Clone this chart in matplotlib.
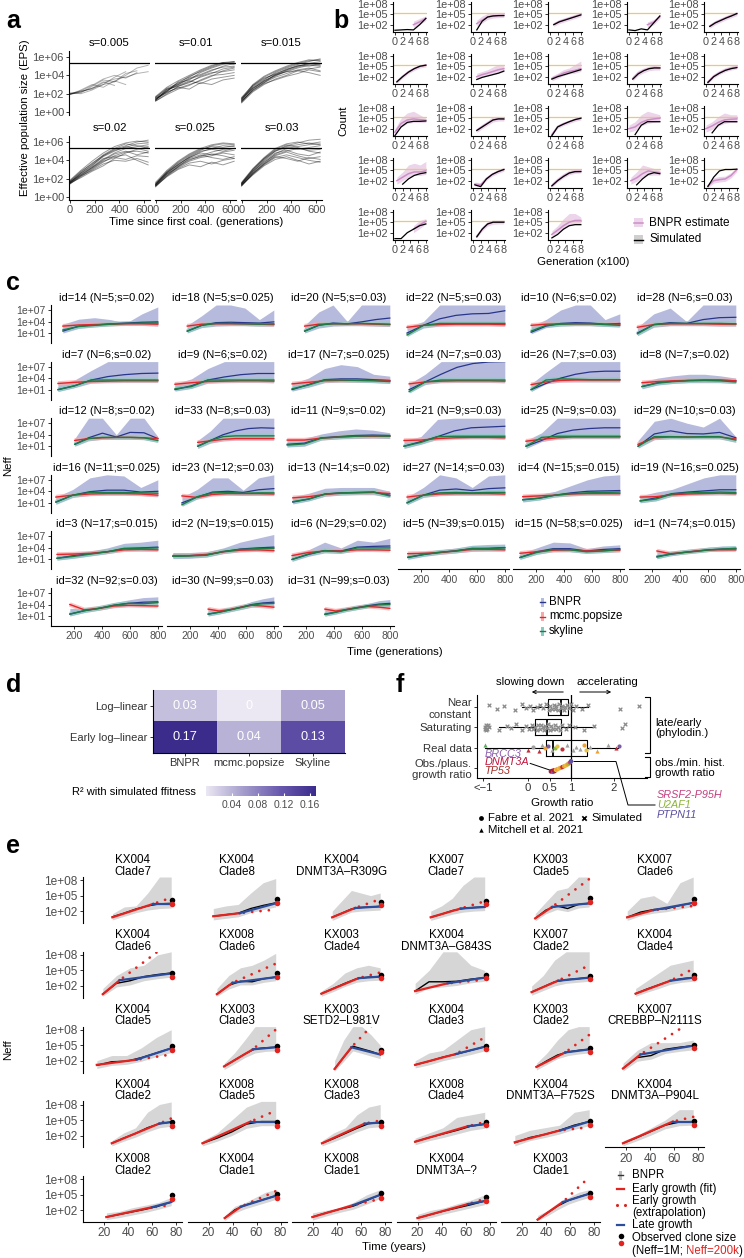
import numpy as np
import matplotlib
matplotlib.use('Agg')
import matplotlib.pyplot as plt
from matplotlib.ticker import NullLocator
from matplotlib.patches import Rectangle
from matplotlib.colors import LinearSegmentedColormap

plt.rcParams['font.family'] = ['Liberation Sans', 'DejaVu Sans']

# ---------------- data ----------------
# panel a: log10 EPS at a_times, one list per trajectory
a_titles = ['s=0.005', 's=0.01', 's=0.015', 's=0.02', 's=0.025', 's=0.03']
a_times = [0, 90, 180, 270, 360, 450, 540, 630]
a_cap = 2e5
nan = np.nan
a_lines = [
    [[1.9, 2.2, 2.6, 3.0, 3.3, 4.0, 4.8, 5.1], [2.0, 2.3, 2.5, 3.2, 3.6, 3.8, 4.2, 4.4],
     [2.0, 2.1, 2.8, 3.5, 3.3, 4.2, 4.5, nan], [1.9, 2.4, 3.0, 2.7, 3.4, 3.0, nan, nan],
     [2.1, 2.0, 2.4, 3.0, 3.8, 4.4, nan, nan], [2.0, 2.2, 2.6, 3.3, 2.9, nan, nan, nan],
     [1.9, 2.3, 2.9, 3.6, 4.0, 3.7, 4.3, nan]],
    [[1.3, 2.5, 3.0, 3.6, 4.0, 4.5, 5.0, 5.3], [1.5, 2.3, 3.2, 3.5, 4.3, 4.8, 5.2, 5.4],
     [1.2, 2.0, 2.8, 3.3, 3.8, 4.2, 4.7, 4.9], [1.6, 2.6, 3.1, 3.9, 4.4, 4.9, 5.3, 5.5],
     [1.4, 2.2, 2.6, 3.0, 3.4, 3.9, 4.5, 4.8], [1.3, 2.4, 2.9, 3.4, 3.1, 3.6, 3.8, 4.0],
     [1.5, 2.1, 2.7, 2.5, 3.2, 3.0, 3.5, 3.7], [1.7, 2.7, 3.4, 4.0, 4.6, 5.1, 5.4, 5.2],
     [1.2, 1.9, 2.5, 2.9, 3.5, 4.0, 4.1, 4.3], [1.4, 2.3, 3.0, 3.7, 4.1, 4.6, 4.9, 5.0],
     [1.6, 2.5, 2.8, 3.2, 3.9, 4.3, 4.4, 4.6], [1.3, 2.2, 3.3, 3.8, 4.5, 5.0, 5.4, 5.5]],
    [[1.3, 2.8, 3.6, 4.2, 4.6, 5.0, 5.3, 5.5], [1.1, 2.5, 3.4, 4.0, 4.4, 4.8, 5.1, 5.0],
     [1.5, 3.0, 3.9, 4.5, 5.0, 5.4, 5.7, 5.6], [1.2, 2.4, 3.2, 3.8, 4.2, 4.6, 4.8, 4.5],
     [1.4, 2.7, 3.5, 4.3, 4.8, 5.2, 5.5, 5.8], [1.0, 2.2, 3.0, 3.6, 4.0, 4.5, 4.7, 4.9],
     [1.6, 2.9, 3.7, 4.1, 4.4, 4.5, 4.3, 4.0], [1.3, 2.6, 3.3, 3.9, 4.5, 4.9, 5.2, 5.3],
     [1.2, 2.3, 3.1, 3.5, 3.9, 4.2, 4.6, 4.4], [1.4, 2.9, 3.8, 4.4, 4.9, 5.3, 5.6, 5.7],
     [1.5, 2.6, 3.4, 4.0, 4.6, 5.1, 5.0, 5.2], [1.1, 2.4, 3.2, 4.1, 4.7, 5.0, 5.3, 5.1]],
    [[1.5, 2.6, 3.4, 4.5, 5.2, 5.6, 6.0, 6.2], [1.6, 2.4, 3.2, 4.1, 4.8, 5.3, 5.5, 5.7],
     [1.4, 2.2, 3.0, 3.8, 4.5, 4.9, 5.0, 4.8], [1.7, 2.8, 3.6, 4.6, 5.3, 5.8, 5.6, 5.4],
     [1.5, 2.3, 2.9, 3.6, 4.0, 3.9, 4.2, 3.8], [1.6, 2.5, 3.3, 4.2, 4.4, 4.6, 4.0, 3.5],
     [1.5, 2.1, 2.8, 3.4, 4.2, 4.8, 5.2, 5.5], [1.8, 2.9, 3.9, 4.8, 5.5, 5.9, 6.1, 6.0],
     [1.4, 2.3, 3.1, 3.9, 4.3, 4.1, 4.5, 4.4], [1.6, 2.6, 3.5, 4.4, 5.0, 5.5, 5.3, 5.0],
     [1.5, 2.4, 3.2, 4.0, 4.7, 5.0, 4.6, 4.9], [1.7, 2.7, 3.7, 4.5, 5.1, 5.4, 5.8, 5.9]],
    [[1.3, 2.6, 3.5, 4.3, 4.9, 5.3, 5.6, 5.5], [1.2, 2.4, 3.3, 4.0, 4.5, 4.9, 5.2, 5.3],
     [1.4, 2.8, 3.7, 4.5, 5.1, 5.6, 5.8, 5.7], [1.1, 2.3, 3.1, 3.7, 3.9, 3.6, 4.0, 4.2],
     [1.3, 2.5, 3.4, 4.1, 4.4, 4.7, 4.5, 4.2], [1.5, 2.7, 3.8, 4.6, 5.2, 5.5, 5.4, 5.6],
     [1.2, 2.2, 3.0, 3.5, 3.3, 3.8, 3.5, 3.9], [1.4, 2.6, 3.6, 4.3, 4.8, 4.6, 4.9, 5.1],
     [1.3, 2.5, 3.2, 3.9, 4.3, 4.5, 4.8, 4.6], [1.6, 2.9, 3.9, 4.7, 5.3, 5.7, 5.9, 5.8],
     [1.2, 2.3, 3.3, 4.2, 4.6, 4.3, 4.1, 4.4], [1.4, 2.7, 3.5, 4.4, 5.0, 5.2, 5.0, 5.3]],
    [[1.4, 2.8, 4.0, 5.0, 5.6, 5.9, 6.2, 6.3], [1.3, 2.6, 3.7, 4.7, 5.3, 5.5, 5.7, 5.8],
     [1.5, 3.0, 4.2, 5.2, 5.7, 5.4, 5.0, 4.8], [1.2, 2.5, 3.5, 4.3, 4.6, 4.3, 4.0, 3.8],
     [1.4, 2.7, 3.9, 4.8, 5.1, 4.7, 4.5, 4.9], [1.6, 3.1, 4.3, 5.3, 5.8, 6.0, 5.8, 6.0],
     [1.3, 2.4, 3.4, 4.1, 4.4, 4.0, 3.6, 3.9], [1.5, 2.9, 4.1, 5.0, 5.4, 5.2, 5.4, 5.6],
     [1.2, 2.6, 3.6, 4.5, 4.9, 4.5, 4.2, 4.4], [1.4, 2.8, 3.8, 4.6, 5.0, 5.3, 5.1, 5.2],
     [1.3, 2.5, 3.6, 4.4, 4.2, 3.9, 4.3, 4.1], [1.5, 3.0, 4.2, 5.1, 5.5, 5.7, 5.9, 5.7]],
]

# panel b: 6 values from b_start to 8 (x100 generations), log10 counts
b_start = [0, 1, 1, 0, 1, 0.5, 1, 0.5, 1, 0.5, 0, 1, 0.5, 0, 0, 0.5, 0.5, 0.5, 0.5, 0.5, 0, 1, 0.5]
b_sim = [[0.4, 0.5, 0.6, 0.5, 2.0, 3.8], [0.5, 3.0, 4.2, 4.5, 4.6, 4.6], [2.0, 2.8, 3.3, 3.8, 4.3, 4.8],
         [0.5, 0.3, 0.8, 0.5, 2.5, 4.5], [1.5, 2.5, 3.2, 3.9, 4.5, 5.2], [0.5, 2.0, 3.3, 4.3, 5.0, 5.3],
         [1.2, 1.8, 2.2, 2.6, 3.0, 3.6], [1.3, 2.0, 2.5, 3.0, 3.5, 4.0], [1.3, 2.8, 3.7, 4.3, 4.5, 4.5],
         [0.3, 2.0, 3.0, 3.8, 4.3, 4.6], [0.0, 2.5, 3.8, 4.1, 4.1, 4.2], [1.5, 2.5, 3.5, 4.5, 4.8, 4.8],
         [0.0, 2.5, 3.3, 4.0, 4.6, 5.0], [nan, 0.3, 3.0, 4.0, 4.0, 4.0], [nan, 0.8, 3.0, 4.0, 4.0, 4.0],
         [nan, 1.0, 2.5, 3.5, 4.0, 4.3], [0.8, 0.3, 2.5, 3.8, 4.6, 5.2], [0.5, 2.0, 3.2, 4.2, 4.6, 4.6],
         [nan, 0.8, 2.5, 3.8, 4.3, 4.0], [0.3, 3.0, 4.8, 5.2, 5.2, 5.3], [0.3, 0.3, 2.0, 3.0, 4.0, 4.5],
         [0.8, 3.0, 4.5, 5.0, 5.0, 5.0], [0.5, 1.5, 3.0, 4.0, 4.3, 4.3]]
b_est = [[nan, nan, nan, 2.0, 2.8, 3.8], [2.3, 3.3, 4.2, 4.5, 4.6, 4.7], [2.1, 2.9, 3.4, 3.9, 4.4, 4.9],
         [nan, nan, nan, 2.0, 2.7, 4.3], [1.6, 2.6, 3.3, 4.0, 4.6, 5.1], [0.6, 2.1, 3.4, 4.3, 5.0, 5.3],
         [2.0, 2.6, 3.0, 3.5, 4.0, 4.3], [1.5, 2.2, 3.0, 3.5, 3.8, 4.3], [1.5, 3.0, 3.8, 4.3, 4.6, 4.5],
         [0.5, 2.1, 3.1, 3.9, 4.4, 4.7], [1.0, 3.5, 4.5, 4.8, 4.6, 4.4], [1.5, 2.6, 3.6, 4.5, 4.8, 4.7],
         [0.3, 2.6, 3.4, 4.0, 4.6, 5.0], [2.0, 2.5, 3.8, 4.5, 4.8, 5.0], [2.0, 2.8, 3.8, 4.5, 4.7, 4.8],
         [2.0, 3.0, 4.0, 4.5, 4.5, 4.8], [1.0, 0.8, 2.6, 3.8, 4.6, 5.2], [0.6, 2.1, 3.3, 4.2, 4.6, 4.7],
         [2.0, 2.8, 4.0, 4.8, 4.5, 4.3], [0.5, 2.0, 2.3, 2.5, 3.5, 5.2], [nan, nan, nan, 3.0, 4.2, 5.3],
         [1.0, 3.0, 4.5, 5.0, 5.1, 5.1], [1.5, 2.7, 4.0, 5.0, 5.5, 5.5]]
b_hi = [[nan, nan, nan, 3.0, 3.8, 4.5], [3.3, 4.5, 5.2, 5.3, 5.5, 5.5], [2.7, 3.5, 4.0, 4.5, 5.0, 5.5],
        [nan, nan, nan, 2.8, 3.5, 4.8], [2.2, 3.2, 3.9, 4.6, 5.2, 5.7], [1.1, 2.6, 3.9, 4.8, 5.5, 5.8],
        [3.0, 3.5, 4.0, 4.8, 5.5, 5.5], [2.2, 3.0, 4.0, 4.5, 5.5, 6.5], [2.3, 3.8, 4.5, 5.0, 5.3, 5.0],
        [1.2, 2.8, 3.8, 4.6, 5.1, 5.5], [2.0, 5.0, 6.5, 7.0, 6.0, 5.0], [2.2, 3.3, 4.3, 5.5, 5.5, 5.2],
        [0.8, 3.1, 3.9, 4.5, 5.1, 5.5], [3.0, 4.0, 6.0, 7.0, 6.5, 6.0], [3.0, 4.0, 5.5, 6.5, 6.0, 6.0],
        [3.0, 4.5, 6.5, 7.0, 6.5, 7.5], [1.6, 1.4, 3.2, 4.4, 5.2, 5.8], [1.4, 2.9, 4.1, 5.0, 5.4, 5.5],
        [3.0, 4.5, 6.5, 6.0, 5.5, 5.0], [1.2, 2.8, 3.2, 3.3, 4.3, 5.8], [nan, nan, nan, 4.0, 5.5, 6.0],
        [1.5, 3.8, 5.2, 5.6, 5.6, 5.6], [2.5, 4.0, 6.0, 7.5, 7.5, 6.5]]
b_lo = [[nan, nan, nan, 1.2, 2.0, 3.2], [1.5, 2.5, 3.5, 3.9, 4.0, 4.1], [1.5, 2.3, 2.8, 3.3, 3.8, 4.3],
        [nan, nan, nan, 1.3, 2.0, 3.8], [1.0, 2.0, 2.7, 3.4, 4.0, 4.6], [0.1, 1.6, 2.9, 3.8, 4.5, 4.8],
        [1.2, 1.8, 2.2, 2.6, 3.0, 3.4], [0.8, 1.5, 2.3, 2.8, 3.0, 3.5], [0.8, 2.3, 3.1, 3.7, 3.9, 3.9],
        [0.0, 1.6, 2.6, 3.4, 3.9, 4.2], [0.3, 2.5, 3.5, 3.8, 3.8, 3.8], [0.9, 2.0, 3.0, 3.9, 4.2, 4.2],
        [0.0, 2.1, 2.9, 3.5, 4.1, 4.5], [1.0, 1.5, 2.8, 3.5, 3.8, 4.0], [1.0, 1.8, 2.8, 3.5, 3.8, 3.8],
        [1.0, 2.0, 3.0, 3.5, 3.5, 3.8], [0.5, 0.3, 2.1, 3.3, 4.1, 4.7], [0.1, 1.6, 2.8, 3.7, 4.1, 4.2],
        [1.0, 1.8, 3.0, 3.5, 3.6, 3.6], [0.0, 1.3, 1.6, 1.8, 2.8, 4.6], [nan, nan, nan, 2.0, 3.2, 4.5],
        [0.5, 2.5, 3.9, 4.4, 4.5, 4.5], [0.8, 2.0, 3.0, 4.0, 4.3, 4.3]]
b_cap = 2e5

# panel c: 7 values from c_start to 800 generations, log10 Neff
c_titles = ['id=14 (N=5;s=0.02)', 'id=18 (N=5;s=0.025)', 'id=20 (N=5;s=0.03)', 'id=22 (N=5;s=0.03)',
            'id=10 (N=6;s=0.02)', 'id=28 (N=6;s=0.03)', 'id=7 (N=6;s=0.02)', 'id=9 (N=6;s=0.02)',
            'id=17 (N=7;s=0.025)', 'id=24 (N=7;s=0.03)', 'id=26 (N=7;s=0.03)', 'id=8 (N=7;s=0.02)',
            'id=12 (N=8;s=0.02)', 'id=33 (N=8;s=0.03)', 'id=11 (N=9;s=0.02)', 'id=21 (N=9;s=0.03)',
            'id=25 (N=9;s=0.03)', 'id=29 (N=10;s=0.03)', 'id=16 (N=11;s=0.025)', 'id=23 (N=12;s=0.03)',
            'id=13 (N=14;s=0.02)', 'id=27 (N=14;s=0.03)', 'id=4 (N=15;s=0.015)', 'id=19 (N=16;s=0.025)',
            'id=3 (N=17;s=0.015)', 'id=2 (N=19;s=0.015)', 'id=6 (N=29;s=0.02)', 'id=5 (N=39;s=0.015)',
            'id=15 (N=58;s=0.025)', 'id=1 (N=74;s=0.015)', 'id=32 (N=92;s=0.03)', 'id=30 (N=99;s=0.03)',
            'id=31 (N=99;s=0.03)']
c_start = [120, 180, 190, 100, 165, 95, 85, 92, 100, 115, 165, 128, 205, 255, 65, 78, 128, 100,
           70, 142, 105, 100, 105, 115, 78, 78, 100, 105, 85, 235, 170, 330, 335]
c_blue = [[1.5, 2.8, 3.1, 3.4, 3.6, 3.8, 3.9], [1.5, 3.0, 3.7, 3.8, 3.7, 3.6, 3.9],
          [1.5, 3.0, 3.6, 3.4, 3.9, 4.5, 4.9], [1.0, 3.0, 4.7, 5.6, 6.0, 6.1, 6.8],
          [1.2, 2.8, 3.5, 3.7, 3.6, 3.3, 3.5], [1.0, 3.2, 3.7, 3.5, 4.5, 5.0, 5.1],
          [1.0, 2.0, 3.5, 4.4, 4.9, 5.2, 5.3], [1.0, 2.0, 3.5, 4.3, 4.9, 5.2, 5.2],
          [1.0, 2.3, 3.6, 3.8, 3.8, 3.6, 3.4], [1.0, 3.0, 5.0, 6.8, 7.8, 8.2, 8.3],
          [1.0, 2.6, 4.0, 5.0, 5.6, 5.8, 5.8], [1.8, 2.8, 3.2, 3.4, 3.5, 3.5, 3.3],
          [1.5, 3.2, 4.4, 3.4, 4.6, 4.5, 3.0], [1.0, 2.5, 4.0, 5.0, 5.6, 5.8, 5.7],
          [1.5, 1.8, 3.2, 3.5, 3.8, 3.9, 3.8], [1.0, 2.2, 3.5, 5.0, 5.8, 6.0, 6.2],
          [1.0, 2.5, 4.3, 5.2, 5.6, 5.8, 5.8], [1.0, 4.2, 5.0, 4.3, 4.2, 4.6, 3.2],
          [1.2, 3.0, 3.9, 4.3, 4.3, 3.8, 4.0], [1.0, 2.5, 3.8, 4.0, 3.7, 4.4, 4.7],
          [1.2, 2.0, 3.3, 3.6, 3.7, 3.8, 3.0], [1.0, 3.0, 4.3, 4.6, 4.2, 4.7, 4.9],
          [1.8, 2.2, 3.0, 3.6, 4.0, 4.1, 4.2], [1.5, 2.3, 3.4, 3.8, 4.1, 4.4, 4.4],
          [1.3, 2.0, 2.5, 3.0, 3.8, 4.0, 4.2], [1.8, 2.0, 2.2, 3.0, 3.7, 4.0, 4.2],
          [1.0, 2.3, 3.3, 3.2, 4.2, 4.4, 4.5], [1.5, 2.3, 2.8, 3.3, 3.8, 3.9, 4.1],
          [1.5, 3.0, 3.8, 3.8, 3.2, 3.6, 3.8], [1.8, 2.3, 2.8, 3.2, 3.5, 3.7, 3.8],
          [1.5, 2.4, 3.0, 3.8, 4.3, 4.6, 4.7], [1.5, 2.0, 2.6, 3.3, 4.0, 4.4, 4.6],
          [1.5, 2.0, 2.7, 3.2, 3.7, 4.1, 4.3]]
c_hi = [[3.3, 4.6, 5.0, 4.5, 3.6, 6.0, 7.8], [3.0, 5.5, 8.3, 8.3, 7.5, 4.5, 7.0],
        [3.0, 6.5, 8.3, 4.0, 8.3, 8.3, 8.3], [2.5, 4.0, 8.3, 8.3, 8.3, 8.3, 8.3],
        [2.8, 4.5, 7.0, 8.3, 8.3, 4.5, 6.0], [2.5, 6.0, 7.5, 4.0, 8.3, 8.3, 8.3],
        [2.5, 3.5, 6.0, 8.3, 8.3, 8.3, 8.3], [2.5, 3.8, 6.5, 8.3, 8.3, 8.3, 8.3],
        [2.5, 4.0, 6.5, 7.5, 7.0, 5.0, 4.5], [2.5, 5.0, 8.3, 8.3, 8.3, 8.3, 8.3],
        [2.5, 5.5, 8.3, 8.3, 8.3, 8.3, 8.3], [3.0, 4.0, 4.6, 5.0, 5.0, 4.6, 4.0],
        [3.0, 8.3, 8.3, 4.0, 8.3, 8.3, 3.5], [2.5, 5.0, 8.3, 8.3, 8.3, 8.3, 8.3],
        [2.8, 3.0, 4.2, 5.0, 5.5, 5.2, 4.5], [2.5, 3.5, 8.0, 8.3, 8.3, 8.3, 8.3],
        [2.5, 4.5, 8.3, 8.3, 8.3, 8.3, 8.3], [2.5, 7.5, 8.3, 7.0, 6.0, 8.3, 3.5],
        [2.5, 4.5, 7.5, 8.3, 8.0, 5.0, 7.0], [2.5, 4.5, 7.5, 7.5, 4.3, 7.5, 8.3],
        [2.5, 3.5, 4.8, 5.0, 5.0, 5.0, 4.0], [2.5, 5.0, 8.3, 7.5, 5.0, 8.0, 8.3],
        [3.0, 3.2, 4.0, 5.5, 7.0, 8.0, 8.3], [2.8, 3.8, 4.5, 6.0, 7.5, 8.3, 8.3],
        [2.5, 2.8, 3.2, 4.0, 5.2, 5.5, 6.0], [2.8, 2.8, 3.0, 4.0, 5.5, 6.5, 7.5],
        [2.3, 3.5, 5.5, 4.0, 6.0, 5.5, 6.5], [2.5, 3.0, 3.5, 4.0, 4.7, 4.9, 5.0],
        [2.5, 4.0, 5.5, 5.3, 3.8, 4.5, 4.8], [3.3, 3.0, 3.5, 3.8, 4.2, 4.5, 4.5],
        [3.0, 3.0, 3.6, 4.5, 5.2, 5.8, 6.0], [2.8, 2.8, 3.2, 3.8, 4.8, 5.5, 6.0],
        [3.0, 2.8, 3.3, 3.7, 4.3, 5.0, 5.3]]
c_lo = [[1.0, 2.2, 2.6, 2.9, 3.0, 3.0, 2.8], [1.0, 2.4, 2.8, 2.9, 2.9, 2.8, 2.8],
        [1.0, 2.3, 2.8, 2.9, 2.9, 2.8, 2.7], [0.2, 2.3, 2.8, 2.9, 2.9, 2.9, 2.8],
        [0.8, 2.4, 2.8, 2.9, 2.9, 2.7, 2.6], [0.3, 2.5, 2.9, 2.9, 2.9, 2.8, 2.8],
        [0.5, 1.5, 2.7, 2.9, 2.9, 2.9, 2.9], [0.6, 1.3, 2.7, 2.9, 2.9, 2.9, 2.8],
        [0.6, 1.6, 2.8, 3.0, 2.9, 2.8, 2.6], [0.2, 2.3, 2.9, 2.9, 2.9, 2.9, 2.8],
        [0.5, 2.5, 3.0, 3.0, 3.0, 3.0, 3.0], [1.2, 2.2, 2.6, 2.8, 2.8, 2.8, 2.6],
        [1.0, 2.4, 2.8, 2.8, 2.8, 2.7, 2.0], [0.4, 1.8, 2.4, 2.6, 2.6, 2.6, 2.6],
        [0.8, 1.0, 2.6, 2.9, 3.0, 3.1, 3.0], [0.4, 1.5, 2.8, 3.0, 3.0, 3.0, 2.9],
        [0.4, 2.2, 2.9, 3.0, 3.0, 3.0, 3.0], [0.5, 2.7, 2.9, 2.9, 2.9, 2.9, 2.0],
        [0.6, 2.4, 2.9, 3.0, 3.0, 2.9, 2.6], [0.2, 2.0, 2.9, 3.0, 2.9, 2.9, 2.9],
        [0.7, 1.5, 2.7, 3.0, 3.1, 3.1, 2.4], [0.5, 2.4, 2.9, 3.0, 3.0, 3.0, 3.0],
        [1.2, 1.7, 2.5, 2.8, 3.0, 3.0, 3.0], [1.0, 1.5, 2.7, 3.0, 3.1, 3.1, 3.1],
        [0.8, 1.3, 1.9, 2.5, 3.2, 3.2, 3.2], [1.2, 1.3, 1.6, 2.5, 3.0, 3.1, 3.1],
        [0.5, 1.8, 2.7, 2.6, 3.2, 3.3, 3.3], [1.0, 1.8, 2.3, 2.7, 3.1, 3.2, 3.2],
        [1.0, 2.3, 3.0, 3.0, 2.6, 2.8, 3.0], [1.2, 1.9, 2.4, 2.8, 3.1, 3.2, 3.3],
        [1.0, 1.9, 2.5, 3.2, 3.5, 3.6, 3.7], [1.0, 1.5, 2.1, 2.7, 3.3, 3.4, 3.5],
        [1.0, 1.5, 2.2, 2.7, 3.2, 3.4, 3.5]]
c_red = [[2.8, 3.1, 3.2, 3.3, 3.4, 3.4, 3.3], [2.8, 3.3, 3.4, 3.4, 3.4, 3.3, 3.2],
         [2.8, 3.3, 3.4, 3.4, 3.4, 3.3, 3.2], [2.5, 3.0, 3.2, 3.3, 3.3, 3.3, 3.2],
         [3.0, 3.3, 3.4, 3.4, 3.4, 3.3, 3.3], [2.5, 3.2, 3.4, 3.4, 3.4, 3.3, 3.3],
         [2.6, 2.9, 3.1, 3.2, 3.3, 3.3, 3.3], [2.4, 2.8, 3.1, 3.2, 3.3, 3.3, 3.2],
         [2.5, 2.9, 3.3, 3.4, 3.4, 3.4, 3.3], [2.5, 3.0, 3.2, 3.3, 3.3, 3.3, 3.2],
         [2.3, 3.0, 3.4, 3.5, 3.5, 3.5, 3.5], [2.8, 3.1, 3.3, 3.4, 3.4, 3.4, 3.3],
         [2.5, 3.0, 3.2, 3.3, 3.3, 3.2, 3.0], [2.0, 2.4, 2.8, 3.0, 3.0, 3.0, 3.0],
         [2.6, 2.6, 3.1, 3.4, 3.6, 3.6, 3.6], [2.5, 2.6, 3.0, 3.2, 3.3, 3.3, 3.2],
         [2.3, 2.8, 3.2, 3.4, 3.4, 3.4, 3.4], [1.5, 3.2, 3.4, 3.4, 3.4, 3.4, 2.9],
         [2.5, 3.0, 3.3, 3.4, 3.4, 3.3, 3.0], [2.8, 2.4, 3.2, 3.4, 3.4, 3.4, 3.3],
         [2.3, 2.6, 3.2, 3.5, 3.6, 3.7, 3.4], [2.5, 3.0, 3.3, 3.4, 3.4, 3.4, 3.3],
         [2.6, 2.8, 3.0, 3.3, 3.4, 3.4, 3.4], [2.5, 2.6, 3.1, 3.3, 3.4, 3.5, 3.4],
         [2.3, 2.4, 2.6, 3.0, 3.5, 3.6, 3.5], [2.0, 2.0, 2.3, 3.0, 3.4, 3.5, 3.3],
         [2.0, 2.8, 3.2, 3.2, 3.5, 3.5, 3.4], [2.5, 2.6, 2.8, 3.2, 3.6, 3.6, 3.5],
         [2.6, 3.0, 3.4, 3.5, 3.2, 3.3, 3.4], [3.2, 2.5, 2.8, 3.2, 3.5, 3.5, 3.5],
         [4.0, 2.6, 3.0, 3.6, 3.8, 3.7, 3.6], [2.8, 2.3, 2.7, 3.3, 3.8, 3.6, 3.3],
         [2.8, 2.3, 2.7, 3.2, 3.5, 3.3, 3.0]]
c_green = [[1.8, 2.7, 3.0, 3.3, 3.5, 3.6, 3.6], [1.5, 3.0, 3.5, 3.5, 3.4, 3.3, 3.4],
           [1.5, 3.1, 3.4, 3.4, 3.5, 3.4, 3.3], [0.5, 3.0, 3.5, 3.5, 3.5, 3.5, 3.5],
           [1.5, 3.0, 3.3, 3.4, 3.4, 3.2, 3.0], [0.8, 3.2, 3.5, 3.5, 3.5, 3.5, 3.4],
           [1.0, 2.0, 3.5, 3.5, 3.5, 3.5, 3.5], [1.2, 1.8, 3.5, 3.5, 3.5, 3.5, 3.5],
           [1.2, 2.2, 3.5, 3.5, 3.4, 3.3, 3.1], [0.5, 3.0, 3.5, 3.5, 3.5, 3.5, 3.5],
           [1.0, 3.5, 3.8, 3.7, 3.6, 3.6, 3.6], [1.8, 2.7, 3.1, 3.3, 3.4, 3.3, 3.0],
           [1.5, 3.0, 3.3, 3.3, 3.3, 3.2, 2.5], [1.0, 2.5, 3.5, 3.7, 3.7, 3.7, 3.7],
           [1.3, 1.6, 3.1, 3.4, 3.6, 3.7, 3.6], [1.0, 2.0, 3.5, 3.6, 3.6, 3.6, 3.6],
           [1.0, 3.3, 3.6, 3.6, 3.6, 3.6, 3.6], [1.0, 3.5, 3.5, 3.4, 3.5, 3.5, 2.6],
           [1.2, 3.0, 3.7, 3.7, 3.7, 3.6, 3.5], [0.5, 2.6, 3.6, 3.7, 3.5, 3.6, 3.6],
           [1.3, 2.0, 3.3, 3.6, 3.7, 3.8, 2.8], [1.0, 3.0, 3.6, 3.7, 3.6, 3.7, 3.7],
           [1.8, 2.2, 3.0, 3.4, 3.6, 3.7, 3.8], [1.5, 2.0, 3.3, 3.6, 3.7, 3.8, 3.7],
           [1.3, 1.8, 2.4, 3.0, 3.9, 3.9, 4.0], [1.8, 1.9, 2.1, 3.1, 3.6, 3.8, 3.9],
           [1.0, 2.4, 3.3, 3.0, 4.0, 4.0, 4.0], [1.6, 2.3, 2.9, 3.2, 3.9, 3.8, 4.0],
           [1.5, 2.8, 3.6, 3.5, 3.0, 3.2, 3.6], [1.6, 2.4, 2.8, 3.1, 3.5, 3.7, 3.9],
           [1.5, 2.4, 3.0, 3.8, 4.3, 4.2, 4.5], [1.5, 2.0, 2.6, 3.2, 3.9, 4.2, 4.3],
           [1.4, 2.0, 2.6, 3.1, 3.6, 3.9, 4.0]]

# panel d
d_rows = ['Log\u2013linear', 'Early log\u2013linear']
d_cols = ['BNPR', 'mcmc.popsize', 'Skyline']
d_vals = [[0.03, 0.0, 0.05], [0.17, 0.04, 0.13]]

# panel f
f_rows = ['Near\nconstant', 'Saturating', 'Real data', 'Obs./plaus.\ngrowth ratio']
f_box = {'near': (-0.14, 0.47, 0.77, 0.93, 1.4), 'sat': (-0.67, 0.16, 0.44, 0.77, 1.53),
         'real': (-1.0, 0.41, 0.58, 1.37, 2.1)}
f_near = [-0.92, -0.73, -0.57, -0.3, -0.15, -0.05, 0.05, 0.12, 0.2, 0.28, 0.35, 0.42, 0.48, 0.52,
          0.56, 0.6, 0.63, 0.66, 0.7, 0.73, 0.76, 0.8, 0.83, 0.87, 0.9, 0.95, 1.0, 1.05, 1.12, 1.25,
          1.4, 2.14, 2.58]
f_sat = [-1.0, -1.0, -0.98, -0.97, -0.95, -0.93, -0.9, -0.67, -0.5, -0.4, -0.28, -0.15, -0.05,
         0.02, 0.08, 0.12, 0.16, 0.2, 0.24, 0.28, 0.31, 0.34, 0.37, 0.4, 0.43, 0.46, 0.5, 0.54,
         0.58, 0.62, 0.66, 0.7, 0.75, 0.8, 0.88, 0.95, 1.1, 1.3, 1.53, 2.18, 2.25]
f_jit = [0.12, -0.1, 0.05, -0.15, 0.15, -0.03, 0.08, -0.12, 0.0, 0.1, -0.06, 0.14, -0.14, 0.04, -0.08]
f_real_x = [-1.0, 0.0, 0.12, 0.25, 0.33, 0.4, 0.47, 0.55, 0.62, 0.68, 0.78, 0.9, 1.05, 1.12, 1.2,
            1.3, 1.36, 1.45, 1.6, 1.85, 2.05, 2.12]
f_real_c = ['#5aae61', '#c0303a', '#a0a0a0', '#c0303a', '#a0a0a0', '#f0a030', '#7b5aa6', '#a0a0a0',
            '#8fbf3f', '#e8c040', '#c0303a', '#a0a0a0', '#a0a0a0', '#a0a0a0', '#a0a0a0', '#f0a030',
            '#e8c040', '#a0a0a0', '#f0a030', '#a0a0a0', '#c0303a', '#7b5aa6']
f_real_m = ['^', '^', 'o', '^', '^', 'o', 'o', '^', 'o', 'o', 'o', '^', '^', '^', '^', 'o', 'o',
            '^', '^', '^', '^', 'o']
f_obs_x = [0.53, 0.56, 0.58, 0.6, 0.62, 0.65, 0.68, 0.72, 0.76, 0.8, 0.84, 0.88, 0.92, 0.95, 0.98, 1.0]
f_obs_y = [0.82, 0.85, 0.8, 0.88, 0.84, 0.9, 0.93, 0.97, 1.0, 1.04, 1.08, 1.12, 1.17, 1.22, 1.27, 1.33]
f_obs_c = ['#c0143c', '#9b1c31', '#7b5aa6', '#c0143c', '#a0302a', '#e8c040', '#f0a030', '#e8c040',
           '#f0a030', '#c0303a', '#f0a030', '#e8c040', '#f0a030', '#8fbf3f', '#c2407f', '#5a4fa0']

# panel e
e_titles = ['KX004\nClade7', 'KX004\nClade8', 'KX004\nDNMT3A\u2013R309G', 'KX007\nClade7', 'KX003\nClade5',
            'KX007\nClade6', 'KX004\nClade6', 'KX008\nClade6', 'KX003\nClade4', 'KX004\nDNMT3A\u2013G843S',
            'KX007\nClade2', 'KX004\nClade4', 'KX004\nClade5', 'KX003\nClade3', 'KX003\nSETD2\u2013L981V',
            'KX004\nClade3', 'KX003\nClade2', 'KX007\nCREBBP\u2013N2111S', 'KX004\nClade2', 'KX008\nClade5',
            'KX008\nClade3', 'KX008\nClade4', 'KX004\nDNMT3A\u2013F752S', 'KX004\nDNMT3A\u2013P904L',
            'KX008\nClade2', 'KX004\nClade1', 'KX008\nClade1', 'KX004\nDNMT3A\u2013?', 'KX003\nClade1']
e_t0 = [27, 24, 36, 31, 31, 21, 19, 27, 27, 18, 28, 28, 14, 33, 38, 18, 32, 17.5, 26.5, 15, 27.5,
        18, 14, 17.5, 22, 33.5, 19.5, 20, 33]
e_y0 = [0.8, 1.0, 0.8, 0.8, 0.6, 0.8, 0.4, 0.4, 0.5, 1.0, 0.8, 0.5, 1.2, 0.9, 0.4, 1.2, 0.8, 0.5,
        0.5, 0.5, 0.5, 0.8, 0.7, 0.5, 0.7, 0.5, 0.7, 0.5, 0.2]
e_tb = [61, 46, 55, 56, 45, 43, 33, 40, 58, 45, 50, 57, 47, 57, 52, 52, 56, 32, 66, 55, 63, 62, 52,
        59, 60, 47, 53.5, 62, 54]
e_yb = [3.4, 1.6, 2.6, 2.5, 2.8, 2.2, 3.1, 2.6, 3.5, 2.5, 3.0, 3.0, 2.2, 4.2, 4.6, 3.3, 3.6, 3.2,
        4.3, 4.7, 4.3, 3.8, 3.0, 4.7, 2.6, 2.7, 3.0, 3.2, 3.6]
e_yl = [3.4, 3.5, 2.9, 2.8, 3.5, 3.6, 4.4, 3.7, 3.8, 3.6, 3.6, 3.6, 4.4, 4.6, 3.2, 4.7, 4.2, 4.9,
        4.6, 4.7, 4.5, 4.2, 4.7, 4.7, 3.6, 4.8, 5.0, 3.8, 5.2]
e_ye = [4.6, 2.3, 4.3, 3.9, 8.2, 3.0, 10.6, 6.3, 4.6, 3.2, 6.0, 5.3, 3.2, 8.0, 10.5, 6.5, 7.0, 9.8,
        5.3, 6.8, 4.9, 4.6, 3.6, 5.6, 3.0, 5.7, 4.2, 4.2, 8.4]
e_ob = [4.1, 4.3, 3.8, 3.9, 4.5, 4.3, 4.5, 4.5, 4.2, 4.2, 4.0, 4.2, 4.8, 4.8, 4.0, 4.9, 4.4, 5.0,
        4.6, 4.7, 4.7, 4.7, 4.8, 4.8, 5.0, 5.2, 5.3, 4.5, 5.3]
e_or = [3.4, 3.5, 3.2, 3.3, 3.7, 3.6, 3.8, 3.7, 3.6, 3.6, 3.4, 3.5, 4.0, 4.0, 3.7, 4.2, 3.7, 4.5,
        3.9, 3.9, 3.9, 4.0, 4.0, 4.1, 4.2, 4.3, 4.4, 3.8, 4.6]
e_bl = [[0.9, 1.6, 2.4, 3.0, 3.4, 3.5], [1.0, 1.3, 1.6, 2.5, 3.1, 3.6], [0.8, 1.6, 2.4, 2.7, 2.8, 2.9],
        [0.8, 1.4, 2.1, 2.5, 2.7, 2.8], [0.6, 2.2, 3.0, 2.5, 3.3, 3.5], [0.8, 1.8, 2.3, 2.5, 3.1, 3.6],
        [0.4, 2.5, 3.0, 3.8, 4.2, 4.5], [0.4, 2.1, 2.9, 2.8, 3.4, 3.7], [0.5, 1.5, 2.5, 3.4, 3.7, 3.8],
        [1.0, 2.8, 2.8, 2.9, 3.3, 3.6], [0.8, 1.8, 2.8, 3.2, 3.4, 3.6], [0.5, 1.4, 2.2, 3.0, 3.4, 3.6],
        [1.1, 1.8, 1.9, 2.6, 3.5, 4.4], [0.9, 2.1, 3.3, 4.3, 4.5, 4.6], [0.4, 2.7, 4.8, 4.3, 3.8, 3.2],
        [1.2, 1.9, 2.7, 3.3, 4.0, 4.7], [0.8, 2.0, 3.1, 3.7, 4.0, 4.2], [0.5, 2.6, 3.0, 4.2, 4.6, 4.9],
        [0.5, 1.5, 2.4, 3.5, 4.3, 4.6], [0.5, 1.5, 2.7, 4.2, 4.7, 4.7], [0.5, 1.4, 2.4, 3.4, 4.3, 4.5],
        [0.8, 1.6, 2.3, 3.0, 3.8, 4.2], [0.6, 1.6, 2.2, 3.0, 4.0, 4.7], [0.5, 1.6, 2.8, 4.0, 4.6, 4.7],
        [0.7, 1.2, 1.7, 2.2, 2.8, 3.6], [0.5, 2.1, 3.0, 3.6, 4.2, 4.8], [0.7, 1.5, 2.2, 2.8, 3.9, 5.0],
        [0.5, 1.2, 1.9, 2.5, 3.1, 3.8], [0.2, 1.6, 2.9, 3.9, 4.6, 5.2]]
e_hi = [[1.5, 2.8, 3.0, 5.5, 8.6, 8.6], [2.5, 3.0, 3.3, 5.5, 7.5, 8.3], [2.0, 4.0, 6.0, 5.5, 5.0, 5.5],
        [2.0, 3.0, 4.5, 7.0, 8.6, 8.6], [1.5, 3.8, 6.0, 6.5, 8.6, 8.6], [2.0, 4.5, 5.0, 3.5, 7.5, 8.6],
        [1.5, 4.0, 5.5, 6.0, 8.0, 8.6], [1.5, 4.0, 5.5, 6.0, 7.0, 8.3], [1.0, 2.5, 4.5, 5.5, 6.0, 5.5],
        [2.5, 5.0, 8.6, 8.6, 6.0, 5.0], [2.0, 4.0, 7.0, 8.6, 8.6, 8.6], [1.5, 3.0, 4.5, 6.0, 6.5, 7.0],
        [2.0, 3.0, 3.0, 4.5, 6.5, 8.0], [1.5, 3.5, 6.0, 8.6, 8.6, 8.6], [2.0, 6.0, 8.6, 8.6, 7.0, 5.0],
        [2.0, 3.5, 4.0, 6.0, 8.0, 8.6], [1.5, 3.5, 6.0, 8.0, 8.6, 8.6], [1.5, 4.0, 5.5, 5.5, 5.5, 6.0],
        [1.0, 2.5, 3.5, 6.5, 8.0, 8.5], [1.0, 2.5, 5.0, 7.5, 8.6, 8.6], [1.0, 2.5, 3.5, 6.0, 7.5, 8.0],
        [1.5, 2.5, 3.5, 5.5, 6.0, 6.5], [2.0, 3.0, 3.5, 4.0, 6.5, 7.0], [1.0, 2.0, 3.5, 5.0, 7.0, 7.0],
        [1.5, 1.8, 2.5, 3.0, 3.5, 4.5], [1.0, 2.8, 3.5, 4.5, 5.5, 6.0], [1.5, 2.0, 2.5, 3.5, 5.0, 6.0],
        [1.2, 2.0, 2.5, 3.3, 4.0, 5.0], [1.0, 2.0, 3.5, 4.5, 5.5, 6.0]]
e_lo = [[0.3, 1.0, 1.7, 2.2, 2.5, 2.6], [0.3, 0.6, 0.9, 1.7, 2.3, 2.8], [0.2, 1.0, 1.8, 2.0, 2.1, 2.2],
        [0.2, 0.8, 1.4, 1.8, 2.0, 2.1], [0.1, 1.5, 2.3, 1.9, 2.6, 2.8], [0.2, 1.1, 1.6, 1.9, 2.4, 2.9],
        [0.0, 1.8, 2.2, 3.0, 3.4, 3.7], [0.0, 1.4, 2.2, 2.2, 2.7, 3.0], [0.0, 0.9, 1.9, 2.7, 3.0, 3.1],
        [0.4, 1.6, 1.8, 2.1, 2.6, 2.9], [0.2, 1.1, 2.0, 2.5, 2.7, 2.9], [0.0, 0.8, 1.5, 2.3, 2.7, 2.9],
        [0.5, 1.1, 1.3, 1.9, 2.8, 3.6], [0.3, 1.4, 2.6, 3.5, 3.8, 3.9], [0.0, 1.9, 3.9, 3.4, 2.9, 2.4],
        [0.6, 1.2, 2.0, 2.6, 3.2, 3.9], [0.2, 1.3, 2.4, 3.0, 3.3, 3.5], [0.0, 1.9, 2.3, 3.4, 3.8, 4.1],
        [0.0, 0.9, 1.7, 2.7, 3.5, 3.8], [0.0, 0.9, 2.0, 3.4, 3.9, 3.9], [0.0, 0.8, 1.7, 2.7, 3.5, 3.7],
        [0.2, 1.0, 1.6, 2.3, 3.0, 3.4], [0.0, 1.0, 1.6, 2.3, 3.2, 3.9], [0.0, 1.0, 2.1, 3.3, 3.9, 4.0],
        [0.2, 0.6, 1.1, 1.6, 2.2, 2.9], [0.0, 1.5, 2.3, 2.9, 3.5, 4.1], [0.1, 0.9, 1.6, 2.2, 3.2, 4.3],
        [0.0, 0.6, 1.3, 1.9, 2.5, 3.1], [0.0, 1.0, 2.2, 3.2, 3.9, 4.5]]
e_tend = 76
e_tobs = 77

# ---------------- drawing ----------------
W, H = 744, 1258
fig = plt.figure(figsize=(W / 100, H / 100), dpi=100)
ov = fig.add_axes([0, 0, 1, 1], zorder=10)
ov.set_xlim(0, W)
ov.set_ylim(H, 0)
ov.axis('off')


def px_ax(x0, y0, x1, y1):
    return fig.add_axes([x0 / W, 1 - y1 / H, (x1 - x0) / W, (y1 - y0) / H])


def style(ax, left, bottom, fs=7.5):
    ax.set_facecolor('none')
    for sp in ('top', 'right'):
        ax.spines[sp].set_visible(False)
    ax.spines['left'].set_visible(left)
    ax.spines['bottom'].set_visible(bottom)
    for sp in ('left', 'bottom'):
        ax.spines[sp].set_linewidth(0.8)
    ax.tick_params(labelsize=fs, labelcolor='#4d4d4d', color='#333333', length=2.5, width=0.7,
                   pad=1.2, left=left, labelleft=left, bottom=bottom, labelbottom=bottom)


def logy(ax, ticks, lim):
    ax.set_yscale('log')
    ax.set_ylim(10.0 ** lim[0], 10.0 ** lim[1])
    ax.set_yticks([10.0 ** t for t in ticks], [f'1e+{t:02d}' for t in ticks])
    ax.yaxis.set_minor_locator(NullLocator())


def L(v):
    return 10.0 ** np.array(v, dtype=float)


# panel labels
for lab, (x, y) in {'a': (6, 28), 'b': (333, 28), 'c': (6, 290), 'd': (6, 692), 'f': (396, 692),
                    'e': (6, 853)}.items():
    ov.text(x, y, lab, fontsize=18, fontweight='bold', va='baseline')

# ---- panel a ----
a_cols = [69, 155, 241]
a_rows = [(50.6, 114.8), (135.6, 199.7)]
for k in range(6):
    r, c = divmod(k, 3)
    ax = px_ax(a_cols[c], a_rows[r][0], a_cols[c] + 81, a_rows[r][1])
    ax.axhline(a_cap, color='black', lw=0.9)
    for line in a_lines[k]:
        ax.plot(a_times, L(line), color='black', alpha=0.4 if k else 0.3, lw=0.7)
    ax.set_xlim(-5, 645)
    logy(ax, [0, 2, 4, 6], (-0.3, 6.7))
    ax.set_xticks([0, 200, 400, 600])
    style(ax, c == 0, r == 1, fs=8)
    ov.text(a_cols[c] + 40.5, a_rows[r][0] - 8, a_titles[k], ha='center', va='center', fontsize=8.2)
ov.text(25, 118, 'Effective population size (EPS)', rotation=90, ha='center', va='center', fontsize=8.2)
ov.text(196, 222, 'Time since first coal. (generations)', ha='center', va='center', fontsize=8.2)

# ---- panel b ----
b_cols = [393, 471, 548, 627, 704]
for k in range(23):
    r, c = divmod(k, 5)
    top = 2 + 52 * r
    ax = px_ax(b_cols[c], top, b_cols[c] + 34, top + 30)
    x = np.linspace(b_start[k], 8, 6)
    ax.fill_between(x, L(b_lo[k]), L(b_hi[k]), color='#ecd4ea', lw=0)
    ax.axhline(b_cap, color='#ecc873', lw=0.9)
    ax.plot(x, L(b_est[k]), color='#cc8fc6', lw=1.1)
    ax.plot(x, L(b_sim[k]), color='black', lw=0.9)
    ax.set_xlim(-0.5, 8.3)
    logy(ax, [2, 5, 8], (-0.1, 8.5))
    ax.set_xticks([0, 2, 4, 6, 8])
    style(ax, True, True, fs=7.8)
ov.text(343, 121, 'Count', rotation=90, ha='center', va='center', fontsize=8.2)
ov.text(583, 262, 'Generation (x100)', ha='center', va='center', fontsize=8.2)
ov.add_patch(Rectangle((634, 218), 9, 9, color='#ecd4ea', lw=0))
ov.plot([634, 643], [222.5, 222.5], color='#cc8fc6', lw=1.1)
ov.add_patch(Rectangle((634, 235), 9, 9, color='#cfcfcf', lw=0))
ov.plot([634, 643], [239.5, 239.5], color='black', lw=1.0)
ov.text(649, 223, 'BNPR estimate', va='center', fontsize=8.5)
ov.text(649, 239.5, 'Simulated', va='center', fontsize=8.5)

# ---- panel c ----
c_cols = [51, 167, 283, 398, 513, 629]
cb_band, cb_line = '#b6bbdd', '#28368b'
cr_line, cr_halo = '#e3262b', '#f6a9a9'
cg_line, cg_halo = '#1f7a43', '#86cbc3'
for k in range(33):
    r, c = divmod(k, 6)
    x0 = c_cols[c]
    top = 305 + 56.6 * r
    ax = px_ax(x0, top, x0 + 111, top + 38)
    t = np.linspace(c_start[k], 800, 7)
    ax.fill_between(t, L(c_lo[k]), L(c_hi[k]), color=cb_band, lw=0)
    ax.plot(t, L(c_red[k]), color=cr_halo, lw=3.2, alpha=0.7, solid_capstyle='butt')
    ax.plot(t, L(c_green[k]), color=cg_halo, lw=3.2, alpha=0.7, solid_capstyle='butt')
    ax.plot(t, L(c_blue[k]), color=cb_line, lw=0.9)
    ax.plot(t, L(c_red[k]), color=cr_line, lw=1.0)
    ax.plot(t, L(c_green[k]), color=cg_line, lw=1.0)
    ax.set_xlim(35, 830)
    logy(ax, [1, 4, 7], (-1.6, 8.3))
    ax.set_xticks([200, 400, 600, 800])
    style(ax, c == 0, k >= 27)
    ov.text(x0 + 55.5, top - 7, c_titles[k], ha='center', va='center', fontsize=8)
ov.text(8, 466, 'Neff', rotation=90, ha='center', va='center', fontsize=8.2)
ov.text(395, 652, 'Time (generations)', ha='center', va='center', fontsize=8.2)
for i, (lab, band, line) in enumerate([('BNPR', cb_band, cb_line), ('mcmc.popsize', cr_halo, cr_line),
                                        ('skyline', cg_halo, cg_line)]):
    yy = 602 + 14.5 * i
    ov.add_patch(Rectangle((540.5, yy - 4.5), 3.5, 9, color=band, lw=0))
    ov.plot([540, 544.5], [yy, yy], color=line, lw=1.0)
    ov.text(549, yy, lab, va='center', fontsize=8.3)

# ---- panel d ----
d_cmap = LinearSegmentedColormap.from_list('pur', ['#ebe7f3', '#a59dcc', '#6a5aae', '#3b2c8c'],)
ax = px_ax(153, 690, 345, 753)
im = ax.imshow(d_vals, cmap=d_cmap, vmin=0, vmax=0.17, aspect='auto')
for i in range(2):
    for j in range(3):
        ax.text(j, i, f'{d_vals[i][j]:g}', ha='center', va='center', color='white', fontsize=9.2)
ax.set_xticks(range(3), d_cols)
ax.set_yticks(range(2), d_rows)
style(ax, True, True, fs=8)
ax.tick_params(labelcolor='#333333')
cax = px_ax(206, 786, 316, 796)
cb = fig.colorbar(im, cax=cax, orientation='horizontal')
cb.outline.set_visible(False)
cb.set_ticks([0.04, 0.08, 0.12, 0.16], labels=['0.04', '0.08', '0.12', '0.16'])
cax.tick_params(direction='in', color='white', length=2.5, width=0.8, labelsize=7.5,
                labelcolor='#4d4d4d', pad=3)
ov.text(196, 792, 'R\u00b2 with simulated ffitness', ha='right', va='center', fontsize=8)

# ---- panel f ----
ax = px_ax(477, 695, 647, 778)
stats = []
for key, pos in (('near', 4), ('sat', 3), ('real', 2)):
    lo, q1, med, q3, hi = f_box[key]
    stats.append(dict(whislo=lo, q1=q1, med=med, q3=q3, whishi=hi, fliers=[]))
ax.axvline(1, color='black', lw=0.9)
ax.bxp(stats, positions=[4, 3, 2], widths=0.8, orientation='horizontal', showfliers=False,
       showcaps=False, boxprops=dict(color='black', lw=0.8), medianprops=dict(color='black', lw=1.3),
       whiskerprops=dict(color='black', lw=0.8), manage_ticks=False)
ax.scatter(f_near, 4 + np.resize(f_jit, len(f_near)), marker='x', s=7, c='#8a8a8a', lw=0.9, zorder=3)
ax.scatter(f_sat, 3 + np.resize(f_jit[::-1], len(f_sat)), marker='x', s=7, c='#8a8a8a', lw=0.9,
           zorder=3)
for xv, cv, mv, jv in zip(f_real_x, f_real_c, f_real_m, np.resize(f_jit, len(f_real_x))):
    ax.scatter(xv, 2 + jv, marker=mv, s=9, c=cv, lw=0, zorder=3)
ax.scatter(f_obs_x, f_obs_y, marker='o', s=10, c=f_obs_c, lw=0, zorder=3)
ax.plot([0.05, 0.55], [1.22, 0.86], color='black', lw=0.7)
ax.text(-1.02, 1.7, 'BRCC3', color='#8e5fb0', fontsize=7.8, style='italic', va='center')
ax.text(-1.02, 1.28, 'DNMT3A', color='#c0143c', fontsize=7.8, style='italic', va='center')
ax.text(-1.02, 0.86, 'TP53', color='#a0302a', fontsize=7.8, style='italic', va='center')
ax.set_xlim(-1.19, 2.77)
ax.set_ylim(0.5, 4.6)
ax.set_xticks([-1.05, 0, 0.5, 1, 2], ['<\u22121', '0', '0.5', '1', '2'])
ax.set_yticks([4, 3, 2, 1], f_rows)
style(ax, True, True, fs=8.2)
ax.tick_params(labelcolor='#333333')
ov.text(562, 803, 'Growth ratio', ha='center', va='center', fontsize=8.2)
ov.text(530, 682, 'slowing down', ha='center', va='center', fontsize=8.2)
ov.text(607, 682, 'accelerating', ha='center', va='center', fontsize=8.2)
ov.annotate('', xy=(529, 692), xytext=(566, 692),
            arrowprops=dict(arrowstyle='->', lw=0.7, color='black', mutation_scale=6))
ov.annotate('', xy=(614, 692), xytext=(577, 692),
            arrowprops=dict(arrowstyle='->', lw=0.7, color='black', mutation_scale=6))
ov.plot([645, 650, 650, 645], [697, 697, 753, 753], color='black', lw=0.8)
ov.plot([645, 650, 650, 645], [757, 757, 777, 777], color='black', lw=0.8)
ov.text(655, 728, 'late/early\n(phylodin.)', va='center', fontsize=8.2, linespacing=0.95)
ov.text(655, 768, 'obs./min. hist.\ngrowth ratio', va='center', fontsize=8.2, linespacing=0.95)
ov.plot([574, 616, 628, 655], [761.5, 761.5, 805, 805], color='black', lw=0.7)
ov.text(657, 795.5, 'SRSF2-P95H', color='#c2407f', fontsize=7.8, style='italic', va='center')
ov.text(657, 805.5, 'U2AF1', color='#8db33a', fontsize=7.8, style='italic', va='center')
ov.text(657, 815, 'PTPN11', color='#5a4fa0', fontsize=7.8, style='italic', va='center')
ov.scatter([481], [818], marker='o', s=12, c='black', lw=0)
ov.scatter([481], [830], marker='^', s=10, c='black', lw=0)
ov.scatter([584], [818], marker='x', s=10, c='black', lw=1.2)
ov.text(488, 818, 'Fabre et al. 2021', va='center', fontsize=8.2)
ov.text(488, 830, 'Mitchell et al. 2021', va='center', fontsize=8.2)
ov.text(591, 818, 'Simulated', va='center', fontsize=8.2)

# ---- panel e ----
e_cols = [83, 187.5, 292, 396.5, 501, 605]
e_band, e_red, e_blue = '#d6d6d6', '#e2231f', '#2c4c9c'
for k in range(29):
    r, c = divmod(k, 6)
    x0 = e_cols[c]
    top = 877 + 74.8 * r
    ax = px_ax(x0, top, x0 + 99, top + 46)
    t = np.linspace(e_t0[k], e_tend, 6)
    ax.fill_between(t, L(e_lo[k]), L(e_hi[k]), color=e_band, lw=0)
    ax.plot(t, L(e_bl[k]), color='black', lw=1.0)
    ax.plot([e_tb[k], e_tend], L([e_yb[k], e_ye[k]]), color=e_red, lw=2.0,
            linestyle=(1.5, (0.01, 3.0)), dash_capstyle='round')
    ax.plot([e_t0[k], e_tb[k]], L([e_y0[k], e_yb[k]]), color=e_red, lw=1.6)
    ax.plot([e_tb[k], e_tend], L([e_yb[k], e_yl[k]]), color=e_blue, lw=1.6)
    ax.scatter([e_tobs], L([e_ob[k]]), s=16, c='black', lw=0, zorder=4)
    ax.scatter([e_tobs], L([e_or[k]]), s=16, c=e_red, lw=0, zorder=4)
    ax.set_xlim(2.5, 85)
    logy(ax, [2, 5, 8], (-0.3, 8.6))
    ax.set_xticks([20, 40, 60, 80])
    style(ax, c == 0, k >= 23, fs=8.6)
    ov.text(x0 + 49.5, top - 11, e_titles[k], ha='center', va='center', fontsize=8.4, linespacing=0.95)
ov.text(8, 1050, 'Neff', rotation=90, ha='center', va='center', fontsize=8.2)
ov.text(394, 1247, 'Time (years)', ha='center', va='center', fontsize=8.2)
ov.add_patch(Rectangle((618.5, 1170.5), 3.5, 9, color='#bdbdbd', lw=0))
ov.plot([618, 622.5], [1175, 1175], color='#333333', lw=1.0)
ov.plot([617, 624], [1189, 1189], color=e_red, lw=1.6)
ov.scatter([617, 625], [1205, 1205], s=5, c=e_red, lw=0)
ov.plot([617, 624], [1225, 1225], color=e_blue, lw=1.6)
ov.scatter([620.5], [1236], s=16, c='black', lw=0)
ov.scatter([620.5], [1243], s=16, c=e_red, lw=0)
ov.text(632, 1175, 'BNPR', va='center', fontsize=8.3)
ov.text(632, 1189, 'Early growth (fit)', va='center', fontsize=8.3)
ov.text(632, 1207, 'Early growth\n(extrapolation)', va='center', fontsize=8.3, linespacing=0.95)
ov.text(632, 1225, 'Late growth', va='center', fontsize=8.3)
ov.text(632, 1238, 'Observed clone size', va='center', fontsize=8.3)
t1 = ov.text(632, 1251, '(Neff=1M; ', va='center', fontsize=8.3)
fig.canvas.draw()
bb = t1.get_window_extent().transformed(ov.transData.inverted())
t2 = ov.text(max(bb.x0, bb.x1), 1251, 'Neff=200k', va='center', fontsize=8.3, color=e_red)
fig.canvas.draw()
bb2 = t2.get_window_extent().transformed(ov.transData.inverted())
ov.text(max(bb2.x0, bb2.x1), 1251, ')', va='center', fontsize=8.3)

fig.savefig('out.png', dpi=100)
